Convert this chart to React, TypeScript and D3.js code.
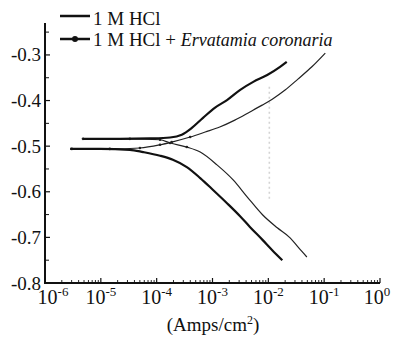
import React from 'react';
import * as d3 from 'd3';

// Axis ticks
const yMajorTicks = [-0.8, -0.7, -0.6, -0.5, -0.4, -0.3];
const yMinorTicks = [-0.75, -0.65, -0.55, -0.45, -0.35, -0.25];
const xDecades = [-6, -5, -4, -3, -2, -1, 0];

// Series: log10(i [A/cm2]) and potential E (V)
const hclAnodicLogI = [-5.32, -4.66, -4.12, -3.76, -3.55, -3.37, -3.17, -2.96, -2.74, -2.51, -2.27, -2.02, -1.79, -1.67];
const hclAnodicE = [-0.484, -0.484, -0.483, -0.481, -0.475, -0.46, -0.438, -0.416, -0.399, -0.377, -0.359, -0.344, -0.326, -0.315];

const hclCathodicLogI = [-5.55, -5.01, -4.48, -4.24, -3.94, -3.71, -3.46, -3.22, -2.99, -2.74, -2.51, -2.33, -2.1, -1.93, -1.75];
const hclCathodicE = [-0.506, -0.506, -0.508, -0.513, -0.521, -0.53, -0.546, -0.57, -0.596, -0.625, -0.653, -0.677, -0.706, -0.728, -0.75];

const inhAnodicLogI = [-5.52, -4.84, -4.3, -3.94, -3.73, -3.4, -3.13, -2.87, -2.6, -2.33, -2.11, -1.93, -1.7, -1.47, -1.22, -0.98];
const inhAnodicE = [-0.506, -0.506, -0.504, -0.497, -0.491, -0.48, -0.469, -0.458, -0.443, -0.425, -0.41, -0.397, -0.377, -0.353, -0.326, -0.296];

const inhCathodicLogI = [-5.32, -4.48, -3.94, -3.76, -3.46, -3.22, -2.92, -2.63, -2.38, -2.1, -1.84, -1.61, -1.47, -1.31];
const inhCathodicE = [-0.484, -0.484, -0.486, -0.493, -0.502, -0.513, -0.541, -0.574, -0.611, -0.651, -0.679, -0.701, -0.721, -0.743];

const legendLabels = ['1 M HCl', '1 M HCl + ', 'Ervatamia coronaria'];

const W = 395;
const H = 338;
const FONT = "'Liberation Serif', 'Times New Roman', Times, serif";

export default function App() {
  const x = d3.scaleLog().domain([1e-6, 1]).range([45, 380]);
  const y = d3.scaleLinear().domain([-0.8, -0.23]).range([283, 23]);

  const toPts = (li: number[], e: number[]) => li.map((v, i) => [Math.pow(10, v), e[i]] as [number, number]);
  const line = d3
    .line<[number, number]>()
    .x((d) => x(d[0]))
    .y((d) => y(d[1]))
    .curve(d3.curveMonotoneX);

  const hclA = toPts(hclAnodicLogI, hclAnodicE);
  const hclC = toPts(hclCathodicLogI, hclCathodicE);
  const inhA = toPts(inhAnodicLogI, inhAnodicE);
  const inhC = toPts(inhCathodicLogI, inhCathodicE);

  const minorX: number[] = [];
  xDecades.slice(0, -1).forEach((d) => {
    for (let k = 2; k <= 9; k++) minorX.push(k * Math.pow(10, d));
  });

  return (
    <svg width={W} height={H} style={{ position: 'absolute', left: 0, top: 0, background: '#fff', fontFamily: FONT }}>
      <rect x={0} y={0} width={W} height={H} fill="#fff" />

      {/* scan smudge */}
      <line x1={x(1e-2) + 1} x2={x(1e-2) + 1} y1={y(-0.37)} y2={y(-0.62)} stroke="#d4d4d4" strokeWidth={1.6} strokeDasharray="2 3" />

      {/* curves */}
      <path d={line(inhA) || ''} fill="none" stroke="#222" strokeWidth={1.2} />
      <path d={line(inhC) || ''} fill="none" stroke="#222" strokeWidth={1.2} />
      {[...inhA.slice(0, 6), ...inhC.slice(0, 5)].map((d, i) => (
        <circle key={'m' + i} cx={x(d[0])} cy={y(d[1])} r={1.3} fill="#222" />
      ))}
      <path d={line(hclA) || ''} fill="none" stroke="#111" strokeWidth={2.2} />
      <path d={line(hclC) || ''} fill="none" stroke="#111" strokeWidth={2.2} />

      {/* axes */}
      <line x1={45} x2={45} y1={23} y2={284} stroke="#111" strokeWidth={2} />
      <line x1={44} x2={380} y1={283} y2={283} stroke="#111" strokeWidth={2} />

      {yMajorTicks.map((t) => (
        <g key={'ym' + t}>
          <line x1={45} x2={50} y1={y(t)} y2={y(t)} stroke="#111" strokeWidth={1.2} />
          <text x={41} y={y(t) + 6.5} textAnchor="end" fontSize={19} fill="#111">
            {t.toFixed(1)}
          </text>
        </g>
      ))}
      {yMinorTicks.map((t) => (
        <line key={'yn' + t} x1={45} x2={49} y1={y(t)} y2={y(t)} stroke="#111" strokeWidth={1} />
      ))}

      {xDecades.map((d) => (
        <line key={'xm' + d} x1={x(Math.pow(10, d))} x2={x(Math.pow(10, d))} y1={283} y2={278} stroke="#111" strokeWidth={1.2} />
      ))}
      {minorX.map((v, i) => (
        <line key={'xn' + i} x1={x(v)} x2={x(v)} y1={283} y2={280} stroke="#111" strokeWidth={0.9} />
      ))}
      {xDecades.map((d) => (
        <text key={'xl' + d} x={x(Math.pow(10, d)) + (d === -6 ? 8 : d === 0 ? -3 : 0)} y={304} textAnchor="middle" fontSize={20} fill="#111">
          <tspan>10</tspan>
          <tspan dy={-8} fontSize={13}>{String(d)}</tspan>
        </text>
      ))}

      <text x={213} y={331} textAnchor="middle" fontSize={19} fill="#111">
        <tspan>(Amps/cm</tspan>
        <tspan dy={-7} fontSize={12}>2</tspan>
        <tspan dy={7}>)</tspan>
      </text>

      {/* legend */}
      <line x1={60} x2={90} y1={16} y2={16} stroke="#111" strokeWidth={2.5} />
      <text x={93} y={24.5} fontSize={19} fill="#111">{legendLabels[0]}</text>
      <line x1={60} x2={90} y1={39} y2={39} stroke="#111" strokeWidth={2.5} />
      <circle cx={75} cy={39} r={3} fill="#111" />
      <text x={93} y={45.5} fontSize={19} fill="#111">
        <tspan>{legendLabels[1]}</tspan>
        <tspan fontStyle="italic" fontSize={18}>{legendLabels[2]}</tspan>
      </text>
    </svg>
  );
}
